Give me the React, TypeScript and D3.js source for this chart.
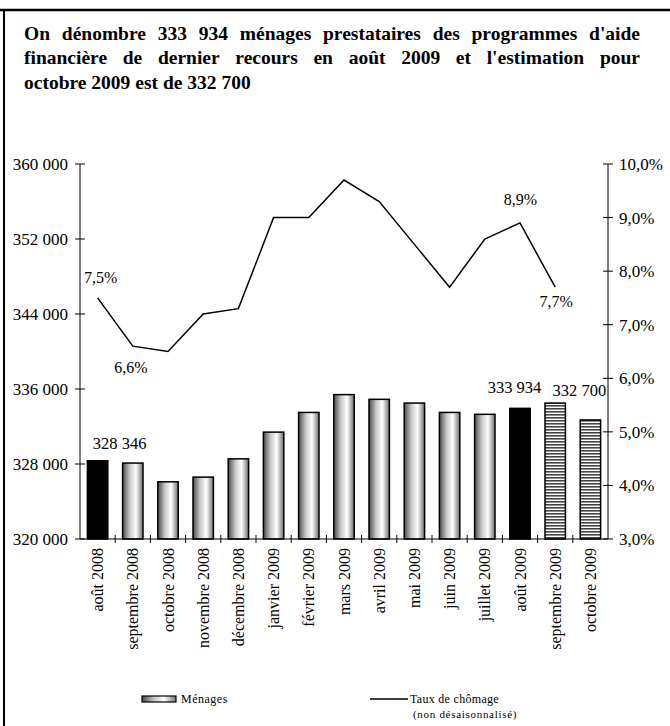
import React, { useEffect, useRef } from "react";
import * as d3 from "d3";

const categories = [
  "août 2008", "septembre 2008", "octobre 2008", "novembre 2008", "décembre 2008",
  "janvier 2009", "février 2009", "mars 2009", "avril 2009", "mai 2009",
  "juin 2009", "juillet 2009", "août 2009", "septembre 2009", "octobre 2009",
];
const menages = [
  328346, 328100, 326100, 326600, 328550, 331400, 333500, 335400, 334900,
  334500, 333500, 333300, 333934, 334500, 332700,
];
const barKinds = [
  "solid", "cyl", "cyl", "cyl", "cyl", "cyl", "cyl", "cyl", "cyl", "cyl",
  "cyl", "cyl", "solid", "hatch", "hatch",
];
const chomage = [7.5, 6.6, 6.5, 7.2, 7.3, 9.0, 9.0, 9.7, 9.3, 8.5, 7.7, 8.6, 8.9, 7.7];
const leftTicks = [320000, 328000, 336000, 344000, 352000, 360000];
const rightTicks = [3, 4, 5, 6, 7, 8, 9, 10];
const titleLines = [
  "On dénombre 333 934 ménages prestataires des programmes d'aide",
  "financière de dernier recours en août 2009 et l'estimation pour",
  "octobre 2009 est de 332 700",
];
const valueLabelIdx = [0, 12, 14];
const rateLabelIdx = [0, 1, 12, 13];
const legendLabels = ["Ménages", "Taux de chômage", "(non désaisonnalisé)"];

const FONT = "'Liberation Serif', 'Times New Roman', serif";

const fr = d3.formatLocale({ decimal: ",", thousands: " ", grouping: [3], currency: ["", " €"] });
const fmtInt = fr.format(",d");
const fmtPct = (v: number) => fr.format(".1f")(v) + "%";

export default function App() {
  const titleRef = useRef<SVGGElement>(null);

  const W = 670, H = 726;
  const left = 80, right = 608, top = 164, bottom = 539;

  const x = d3.scaleBand<string>().domain(categories).range([left, right]).paddingInner(0.42).paddingOuter(0.21);
  const yL = d3.scaleLinear().domain([320000, 360000]).range([bottom, top]);
  const yR = d3.scaleLinear().domain([3, 10]).range([bottom, top]);
  const cx = (i: number) => (x(categories[i]) as number) + x.bandwidth() / 2;
  const step = x.step();

  const line = d3.line<number>().x((_, i) => cx(i)).y((d) => yR(d));

  useEffect(() => {
    const g = d3.select(titleRef.current);
    g.selectAll("*").remove();
    const x0 = 24, x1 = 640;
    const baselines = [39.5, 64, 88.5];
    titleLines.forEach((ln, li) => {
      const words = ln.split(" ");
      const nodes = words.map((w) =>
        g.append("text").attr("y", baselines[li]).attr("font-family", FONT)
          .attr("font-size", 19.5).attr("font-weight", "bold").attr("fill", "#000").text(w)
      );
      const widths = nodes.map((n) => (n.node() as SVGTextElement).getComputedTextLength());
      const total = d3.sum(widths);
      const justify = li < titleLines.length - 1;
      const gap = justify ? (x1 - x0 - total) / (words.length - 1) : 4.9;
      let cur = x0;
      nodes.forEach((n, k) => {
        n.attr("x", cur);
        cur += widths[k] + gap;
      });
    });
  }, []);

  const valOff: Record<number, [number, number]> = { 0: [22, -12], 12: [-5.5, -15], 14: [-11, -24] };
  const rateOff: Record<number, [number, number]> = { 0: [3, -15], 1: [-2, 27], 12: [0.5, -18], 13: [1, 20] };

  return (
    <svg width={W} height={H} style={{ position: "absolute", left: 0, top: 0, background: "#fff" }}>
      <defs>
        <linearGradient id="cyl" x1="0" x2="1" y1="0" y2="0">
          <stop offset="0%" stopColor="#4a4a4a" />
          <stop offset="35%" stopColor="#c8c8c8" />
          <stop offset="65%" stopColor="#ffffff" />
          <stop offset="100%" stopColor="#6f6f6f" />
        </linearGradient>
        <pattern id="hatch" width="4" height="3" patternUnits="userSpaceOnUse">
          <rect width="4" height="3" fill="#ffffff" />
          <rect width="4" height="1.6" fill="#444" />
        </pattern>
      </defs>
      <rect x={0} y={0} width={W} height={H} fill="#fff" />
      {/* frame */}
      <line x1={0} x2={W} y1={10} y2={10} stroke="#000" strokeWidth={2.5} />
      <line x1={4} x2={4} y1={10} y2={H} stroke="#000" strokeWidth={2} />

      <g ref={titleRef} />

      {/* bars */}
      {menages.map((v, i) => {
        const kind = barKinds[i];
        const fill = kind === "solid" ? "#000" : kind === "hatch" ? "url(#hatch)" : "url(#cyl)";
        return (
          <rect key={i} x={x(categories[i])} y={yL(v)} width={x.bandwidth()} height={bottom - yL(v)}
            fill={fill} stroke="#000" strokeWidth={1.5} />
        );
      })}

      {/* axes */}
      <line x1={left} x2={left} y1={top} y2={bottom} stroke="#000" strokeWidth={1} />
      <line x1={right} x2={right} y1={top} y2={bottom} stroke="#000" strokeWidth={1} />
      <line x1={left} x2={right} y1={bottom} y2={bottom} stroke="#000" strokeWidth={1} />
      {leftTicks.map((t) => (
        <g key={"l" + t}>
          <line x1={left - 5} x2={left + 5} y1={yL(t)} y2={yL(t)} stroke="#000" />
          <text x={68} y={yL(t)} dy="0.35em" textAnchor="end" fontFamily={FONT} fontSize={17}>{fmtInt(t)}</text>
        </g>
      ))}
      {rightTicks.map((t) => (
        <g key={"r" + t}>
          <line x1={right - 5} x2={right + 5} y1={yR(t)} y2={yR(t)} stroke="#000" />
          <text x={619} y={yR(t)} dy="0.35em" textAnchor="start" fontFamily={FONT} fontSize={17}>{fmtPct(t)}</text>
        </g>
      ))}
      {categories.map((c, i) => (
        <g key={"c" + i}>
          {i > 0 && (
            <line x1={left + step * i} x2={left + step * i} y1={bottom - 4} y2={bottom + 4} stroke="#000" />
          )}
          <text transform={`translate(${cx(i) + 5.5},${548}) rotate(-90)`} textAnchor="end"
            fontFamily={FONT} fontSize={16}>{c}</text>
        </g>
      ))}

      {/* line */}
      <path d={line(chomage) || ""} fill="none" stroke="#000" strokeWidth={1.5} />

      {valueLabelIdx.map((i) => (
        <text key={"v" + i} x={cx(i) + valOff[i][0]} y={yL(menages[i]) + valOff[i][1]} textAnchor="middle"
          fontFamily={FONT} fontSize={16.5}>{fmtInt(menages[i])}</text>
      ))}
      {rateLabelIdx.map((i) => (
        <text key={"p" + i} x={cx(i) + rateOff[i][0]} y={yR(chomage[i]) + rateOff[i][1]} textAnchor="middle"
          fontFamily={FONT} fontSize={16}>{fmtPct(chomage[i])}</text>
      ))}

      {/* legend */}
      <rect x={142} y={696} width={34} height={6} fill="url(#cyl)" stroke="#000" strokeWidth={1.2} />
      <text x={181} y={703} fontFamily={FONT} fontSize={12} letterSpacing={0.5}>{legendLabels[0]}</text>
      <line x1={370} x2={408} y1={699} y2={699} stroke="#000" strokeWidth={1.5} />
      <text x={410} y={703} fontFamily={FONT} fontSize={12} letterSpacing={0.3}>{legendLabels[1]}</text>
      <text x={413} y={718} fontFamily={FONT} fontSize={11} letterSpacing={0.7}>{legendLabels[2]}</text>
    </svg>
  );
}
